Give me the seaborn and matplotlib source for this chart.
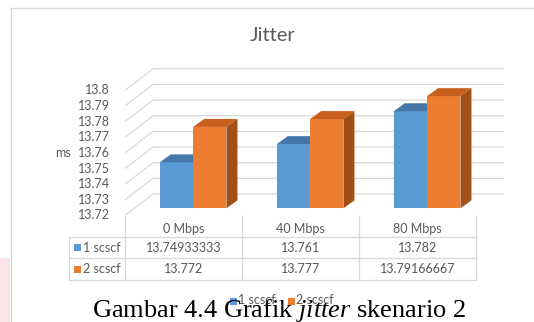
import matplotlib
matplotlib.use("Agg")
import matplotlib.pyplot as plt
from matplotlib.patches import Polygon, Rectangle
import pandas as pd
import seaborn as sns

# ---- data -------------------------------------------------------------
loads = ["0 Mbps", "40 Mbps", "80 Mbps"]
series = ["1 scscf", "2 scscf"]
jitter_1scscf = [13.74933333, 13.761, 13.782]
jitter_2scscf = [13.772, 13.777, 13.79166667]
y_ticks = [13.72, 13.73, 13.74, 13.75, 13.76, 13.77, 13.78, 13.79, 13.80]
y_tick_labels = ["13.72", "13.73", "13.74", "13.75", "13.76",
                 "13.77", "13.78", "13.79", "13.8"]
chart_title = "Jitter"
y_label = "ms"
caption = r"Gambar 4.4 Grafik $\mathit{jitter}$ skenario 2"

# ---- style ------------------------------------------------------------
sns.set_theme(style="white")
plt.rcParams["font.family"] = ["Lato", "DejaVu Sans"]
plt.rcParams["mathtext.fontset"] = "custom"
plt.rcParams["mathtext.rm"] = "Liberation Serif"
plt.rcParams["mathtext.it"] = "Liberation Serif:italic"

BLUE, BLUE_TOP, BLUE_SIDE = "#5b9bd5", "#4677aa", "#3d6a96"
ORANGE, ORANGE_TOP, ORANGE_SIDE = "#ed7d31", "#c8611e", "#a14f17"
GRID = "#d9d9d9"
TEXT = "#595959"
FS = 9

W_PX, H_PX = 534, 322
fig = plt.figure(figsize=(W_PX / 100, H_PX / 100), dpi=100)
fig.patch.set_facecolor("white")

# page layer in pixel coordinates (origin top-left)
page = fig.add_axes([0, 0, 1, 1])
page.set_xlim(0, W_PX)
page.set_ylim(H_PX, 0)
page.axis("off")
page.set_zorder(0)

# ---- 3-D box geometry (pixels) ---------------------------------------
FRONT_LEFT, FRONT_RIGHT = 125, 476      # front edge of the floor
FLOOR_FRONT = 215.5                     # y of the floor's front edge
PX_PER_MS = 1565
BAR_SHIFT = (9.6, 7.2)                  # bar plane behind the front plane
WALL_SHIFT = (28.0, 21.5)               # back wall behind the front plane
BAR_DEPTH = (11.0, 8.0)

ymin, ymax = y_ticks[0], y_ticks[-1]
ax_w = FRONT_RIGHT - FRONT_LEFT
ax_h = (ymax - ymin) * PX_PER_MS
bar_left = FRONT_LEFT + BAR_SHIFT[0]
bar_base = FLOOR_FRONT - BAR_SHIFT[1]
ax = fig.add_axes([bar_left / W_PX, (H_PX - bar_base) / H_PX,
                   ax_w / W_PX, ax_h / H_PX])
ax.set_zorder(1)
ax.patch.set_visible(False)

df = pd.DataFrame({
    "load": loads * 2,
    "scscf": [series[0]] * len(loads) + [series[1]] * len(loads),
    "jitter": jitter_1scscf + jitter_2scscf,
})
sns.barplot(data=df, x="load", y="jitter", hue="scscf",
            palette=[BLUE, ORANGE], width=0.57, saturation=1,
            errorbar=None, linewidth=0, ax=ax, legend=False)
ax.set_xlim(-0.5, len(loads) - 0.5)
ax.set_ylim(ymin, ymax)
ax.axis("off")

# depth of each bar in data units
ddx = BAR_DEPTH[0] * len(loads) / ax_w
ddy = BAR_DEPTH[1] / PX_PER_MS

for k, (cont, (top_c, side_c)) in enumerate(
        zip(ax.containers, [(BLUE_TOP, BLUE_SIDE), (ORANGE_TOP, ORANGE_SIDE)])):
    for p in cont.patches:
        p.set_zorder(2 + 2 * k)
        x0, w = p.get_x(), p.get_width()
        top = p.get_y() + p.get_height()
        x1 = x0 + w
        ax.add_patch(Polygon([(x0, top), (x1, top), (x1 + ddx, top + ddy),
                              (x0 + ddx, top + ddy)], closed=True,
                             facecolor=top_c, edgecolor="none",
                             zorder=2.5 + 2 * k, clip_on=False))
        ax.add_patch(Polygon([(x1, ymin), (x1, top), (x1 + ddx, top + ddy),
                              (x1 + ddx, ymin + ddy)], closed=True,
                             facecolor=side_c, edgecolor="none",
                             zorder=2.5 + 2 * k, clip_on=False))


def bar_plane(x, v):
    X, Y = ax.transData.transform((x, v))
    return X, H_PX - Y


def front_plane(x, v):
    X, Y = bar_plane(x, v)
    return X - BAR_SHIFT[0], Y + BAR_SHIFT[1]


def back_plane(x, v):
    X, Y = front_plane(x, v)
    return X + WALL_SHIFT[0], Y - WALL_SHIFT[1]


# chart frame and the page margin tint
page.add_patch(Rectangle((-2, 258), 12, 70, facecolor="#fce5e9",
                         edgecolor="none", zorder=0))
page.plot([10.5, 10.5, W_PX + 5], [H_PX + 5, 7.5, 7.5], color=GRID, lw=1.0,
          zorder=1)

# side wall diagonals and back wall gridlines
xl, xr = -0.5, len(loads) - 0.5
for v, lab in zip(y_ticks, y_tick_labels):
    fx, fy = front_plane(xl, v)
    bx, by = back_plane(xl, v)
    rx, ry = back_plane(xr, v)
    page.plot([fx, bx, rx], [fy, by, ry], color=GRID, lw=0.9, zorder=1,
              solid_capstyle="butt")
    page.text(fx - 15, fy, lab, ha="right", va="center", fontsize=FS,
              color=TEXT, zorder=2)

page.text(55, front_plane(xl, 13.76)[1], y_label, ha="left", va="center",
          fontsize=FS, color=TEXT)

page.text(273, 35, chart_title, ha="center", va="center", fontsize=14.5,
          color=TEXT)

# data table under the plot
TABLE_LEFT = 69
row_lines = [236.5, 258, 280]
header_y, row_y = 228.5, [247.5, 269]
col_edges = [front_plane(xl + i, ymin)[0] for i in range(len(loads) + 1)]
for y in row_lines:
    page.plot([TABLE_LEFT, col_edges[-1]], [y, y], color=GRID, lw=0.9,
              zorder=1)
for x in col_edges:
    page.plot([x, x], [FLOOR_FRONT, row_lines[-1]], color=GRID, lw=0.9,
              zorder=1)
page.plot([TABLE_LEFT, TABLE_LEFT], [row_lines[0], row_lines[-1]],
          color=GRID, lw=0.9, zorder=1)

for i, name in enumerate(loads):
    cx = (col_edges[i] + col_edges[i + 1]) / 2
    page.text(cx, header_y, name, ha="center", va="center", fontsize=FS,
              color=TEXT)
    for r, vals in enumerate([jitter_1scscf, jitter_2scscf]):
        page.text(cx, row_y[r], f"{vals[i]:.10g}", ha="center", va="center",
                  fontsize=FS, color=TEXT)

for r, (name, col) in enumerate(zip(series, [BLUE, ORANGE])):
    page.add_patch(Rectangle((74, row_y[r] - 3.5), 7, 7, facecolor=col,
                             edgecolor="none"))
    page.text(83, row_y[r], name, ha="left", va="center", fontsize=FS,
              color=TEXT)

# legend
for x0, name, col in zip([230, 288], series, [BLUE, ORANGE]):
    page.add_patch(Rectangle((x0, 298), 7, 7, facecolor=col,
                             edgecolor="none", zorder=2))
    page.text(x0 + 8, 300.5, name, ha="left", va="center", fontsize=FS,
              color=TEXT, zorder=2)

# figure caption
page.text(279, 317.5, caption, ha="center", va="baseline", fontsize=19,
          color="black", family="Liberation Serif", zorder=5)

fig.savefig("out.png", dpi=100, facecolor="white")
